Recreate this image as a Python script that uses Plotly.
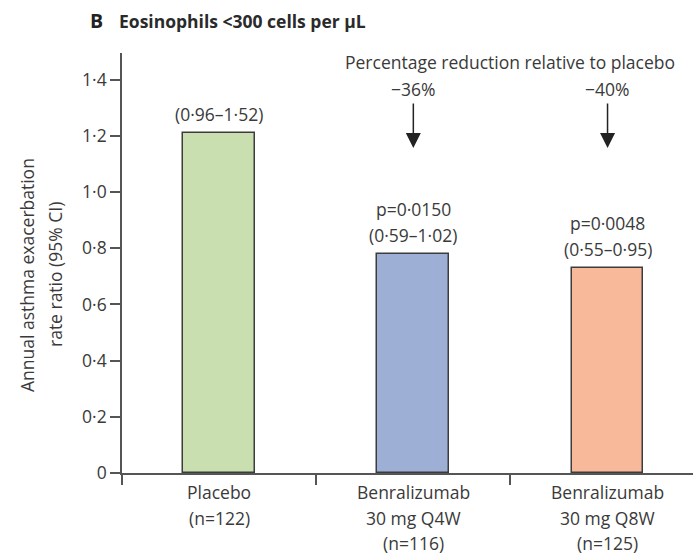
import plotly.graph_objects as go

# ---- data ----
categories = ["Placebo", "Benralizumab 30 mg Q4W", "Benralizumab 30 mg Q8W"]
cat_lines = [["Placebo", "(n=122)"],
             ["Benralizumab", "30 mg Q4W", "(n=116)"],
             ["Benralizumab", "30 mg Q8W", "(n=125)"]]
rates = [1.21, 0.78, 0.73]
ci_labels = ["(0·96–1·52)", "(0·59–1·02)", "(0·55–0·95)"]
p_labels = [None, "p=0·0150", "p=0·0048"]
reductions = [None, "−36%", "−40%"]
bar_colors = ["#c9dfb0", "#9eafd6", "#f8b99a"]
ytick_vals = [0, 0.2, 0.4, 0.6, 0.8, 1.0, 1.2, 1.4]
ytick_text = ["0", "0·2", "0·4", "0·6", "0·8", "1·0", "1·2", "1·4"]

W, H = 695, 555
ML, MR, MT, MB = 122, 2, 53, 82
PW, PH = W - ML - MR, H - MT - MB
FONT = "Open Sans"
TXT = "#3a3a3a"
FS = 17.5


def px_x(px):
    return (px - ML) / PW


def px_y(py):
    return (H - MB - py) / PH


fig = go.Figure()
fig.add_trace(go.Bar(
    x=list(range(len(categories))), y=rates, width=0.37,
    marker=dict(color=bar_colors, line=dict(color="#3c3c3c", width=1.5)),
    hoverinfo="skip", showlegend=False,
))

ann = []
# title
ann.append(dict(text="<b>B</b>", xref="paper", yref="paper", x=px_x(88), y=px_y(20),
                xanchor="left", yanchor="middle", showarrow=False,
                font=dict(family=FONT, size=19.5, color="#222")))
ann.append(dict(text="<b>Eosinophils <300 cells per μL</b>", xref="paper", yref="paper",
                x=px_x(117), y=px_y(21), xanchor="left", yanchor="middle", showarrow=False,
                font=dict(family=FONT, size=17.5, color="#2a2a2a")))
# y title (two lines)
for txt, xp in [("Annual asthma exacerbation", 27), ("rate ratio (95% CI)", 55)]:
    ann.append(dict(text=txt, xref="paper", yref="paper", x=px_x(xp), y=px_y(275),
                    xanchor="center", yanchor="middle", textangle=-90, showarrow=False,
                    font=dict(family=FONT, size=FS, color=TXT)))
# value labels above bars
for i, v in enumerate(rates):
    ann.append(dict(text=ci_labels[i], x=i, y=v, xref="x", yref="y", yanchor="middle",
                    yshift=19, showarrow=False, font=dict(family=FONT, size=FS, color=TXT)))
    if p_labels[i]:
        ann.append(dict(text=p_labels[i], x=i, y=v, xref="x", yref="y", yanchor="middle",
                        yshift=45, showarrow=False, font=dict(family=FONT, size=FS, color=TXT)))
# category labels
for i, lines in enumerate(cat_lines):
    for j, line in enumerate(lines):
        ann.append(dict(text=line, x=i, xref="x", yref="paper", y=px_y(492 + 25.5 * j),
                        yanchor="middle", showarrow=False,
                        font=dict(family=FONT, size=FS, color=TXT)))
# percentage reduction header + arrows
ann.append(dict(text="Percentage reduction relative to placebo", x=1.5, xref="x", yref="paper",
                y=px_y(62), yanchor="middle", showarrow=False,
                font=dict(family=FONT, size=FS, color=TXT)))
for i, r in enumerate(reductions):
    if r:
        ann.append(dict(text=r, x=i, xref="x", yref="paper", y=px_y(89), yanchor="middle",
                        showarrow=False, font=dict(family=FONT, size=FS, color=TXT)))
        ann.append(dict(text="", x=i, xref="x", yref="paper", y=px_y(148),
                        ax=0, ay=-46, showarrow=True, arrowhead=2, arrowsize=2,
                        arrowwidth=1.5, arrowcolor="#222"))

fig.update_layout(
    width=W, height=H,
    margin=dict(l=ML, r=MR, t=MT, b=MB),
    plot_bgcolor="white", paper_bgcolor="white",
    font=dict(family=FONT, size=FS, color=TXT),
    annotations=ann,
    bargap=0,
    xaxis=dict(range=[-0.5, 2.44], tickvals=[0, 1, 2], showticklabels=False, ticks="",
               showline=True, linecolor="#555", linewidth=1.6, showgrid=False, zeroline=False,
               minor=dict(tickvals=[-0.5, 0.5, 1.5], ticks="outside", ticklen=10,
                          tickcolor="#555", tickwidth=1.6, showgrid=False)),
    yaxis=dict(range=[0, 1.495], tickvals=ytick_vals, ticktext=ytick_text,
               ticks="outside", ticklen=10, tickcolor="#555", tickwidth=1.6,
               showline=True, linecolor="#555", linewidth=1.6, showgrid=False, zeroline=False,
               tickfont=dict(family=FONT, size=FS, color=TXT)),
)

fig.write_html("out.html")
